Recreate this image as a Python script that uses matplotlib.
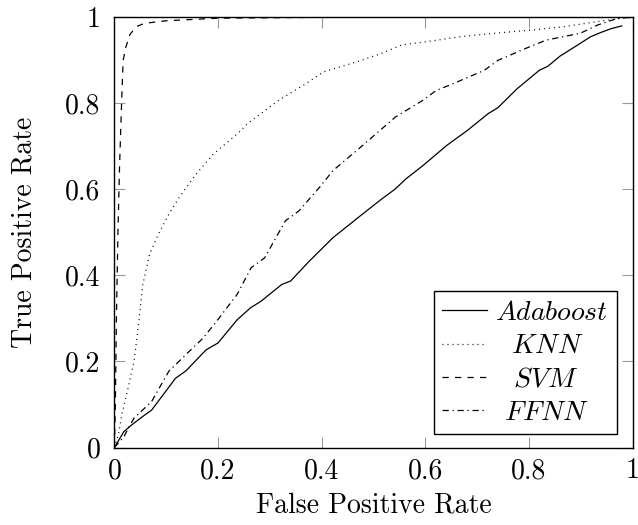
import matplotlib
matplotlib.use("Agg")
import matplotlib.pyplot as plt

plt.rcParams['font.family'] = 'serif'
plt.rcParams['font.serif'] = ['cmr10']
plt.rcParams['mathtext.fontset'] = 'cm'
plt.rcParams['axes.formatter.use_mathtext'] = True

ada_fpr = [0, 0.0185, 0.035, 0.058, 0.072, 0.118, 0.138, 0.177, 0.2, 0.237, 0.263, 0.283, 0.323, 0.340,
           0.376, 0.422, 0.475, 0.515, 0.542, 0.562, 0.595, 0.641, 0.681, 0.721, 0.740, 0.777, 0.793,
           0.820, 0.836, 0.860, 0.893, 0.919, 0.939, 0.959, 0.979]
ada_tpr = [0, 0.037, 0.054, 0.075, 0.087, 0.161, 0.178, 0.227, 0.243, 0.297, 0.325, 0.340, 0.379, 0.387,
           0.433, 0.488, 0.539, 0.577, 0.601, 0.624, 0.655, 0.702, 0.737, 0.776, 0.790, 0.834, 0.850,
           0.877, 0.886, 0.910, 0.935, 0.955, 0.965, 0.974, 0.980]

knn_fpr = [0, 0.008, 0.015, 0.025, 0.038, 0.048, 0.055, 0.068, 0.085, 0.105, 0.125, 0.158, 0.191, 0.237, 0.257,
           0.317, 0.370, 0.403, 0.469, 0.515, 0.555, 0.601, 0.668, 0.734, 0.800, 0.866, 0.932, 0.979, 1.0]
knn_tpr = [0, 0.03, 0.08, 0.13, 0.20, 0.30, 0.379, 0.449, 0.496, 0.542, 0.581, 0.636, 0.682, 0.729, 0.753,
           0.807, 0.846, 0.873, 0.897, 0.916, 0.936, 0.943, 0.955, 0.963, 0.970, 0.978, 0.990, 0.998, 1.0]

svm_fpr = [0, 0.002, 0.004, 0.007, 0.010, 0.014, 0.017, 0.022, 0.030, 0.042, 0.058, 0.10, 0.20, 0.40, 1.0]
svm_tpr = [0, 0.10, 0.30, 0.50, 0.65, 0.80, 0.90, 0.93, 0.96, 0.978, 0.986, 0.992, 0.998, 1.0, 1.0]

ffnn_fpr = [0, 0.0185, 0.030, 0.038, 0.072, 0.105, 0.138, 0.171, 0.197, 0.237, 0.264, 0.290, 0.330, 0.356, 0.396,
            0.422, 0.475, 0.542, 0.595, 0.621, 0.654, 0.714, 0.740, 0.800, 0.833, 0.899, 0.932, 0.972, 1.0]
ffnn_tpr = [0, 0.025, 0.052, 0.068, 0.107, 0.177, 0.216, 0.254, 0.293, 0.356, 0.418, 0.441, 0.527, 0.550, 0.605,
            0.644, 0.698, 0.768, 0.807, 0.830, 0.846, 0.877, 0.900, 0.931, 0.947, 0.963, 0.982, 0.998, 1.0]

ticks = [0, 0.2, 0.4, 0.6, 0.8, 1]
tick_labels = ['0', '0.2', '0.4', '0.6', '0.8', '1']

FS = 20
fig = plt.figure(figsize=(6.38, 5.25), dpi=100)
ax = fig.add_axes([0.1792, 0.1476, 0.8125, 0.8194])

lw = 0.9
ax.plot(ada_fpr, ada_tpr, color='black', lw=lw, linestyle='-', label=r'$Adaboost$')
ax.plot(knn_fpr, knn_tpr, color='black', lw=lw, linestyle=(0, (0.8, 3.2)), label=r'$\enspace\,KNN$')
ax.plot(svm_fpr, svm_tpr, color='black', lw=lw, linestyle=(0, (5, 5)), label=r'$\enspace\;SVM$')
ax.plot(ffnn_fpr, ffnn_tpr, color='black', lw=lw, linestyle=(0, (5, 3, 1, 3)), label=r'$\:\,FFNN$')

ax.set_xlim(0, 1)
ax.set_ylim(0, 1)
ax.set_xticks(ticks)
ax.set_xticklabels(tick_labels)
ax.set_yticks(ticks)
ax.set_yticklabels(tick_labels)
ax.tick_params(direction='in', length=8, width=0.8, color='#999999', labelsize=FS,
               top=True, right=True)
ax.tick_params(axis='x', pad=7.5)
ax.tick_params(axis='y', pad=10)
for s in ax.spines.values():
    s.set_linewidth(1.0)
    s.set_color('black')

ax.set_xlabel('False Positive Rate', fontsize=FS)
ax.set_ylabel('True Positive Rate', fontsize=FS)
ax.xaxis.label.set_va('baseline')
ax.xaxis.set_label_coords(0.5, -0.152)
ax.yaxis.label.set_va('center')
ax.yaxis.set_label_coords(-0.1743, 0.5)

leg = ax.legend(loc='lower right', bbox_to_anchor=(0.969, 0.031), fontsize=FS, frameon=True,
                fancybox=False, edgecolor='black', framealpha=1, borderaxespad=0,
                handlelength=1.62, handletextpad=0.3, labelspacing=0.25, borderpad=0.3)
leg.get_frame().set_linewidth(1.0)

fig.savefig('out.png', dpi=100)
